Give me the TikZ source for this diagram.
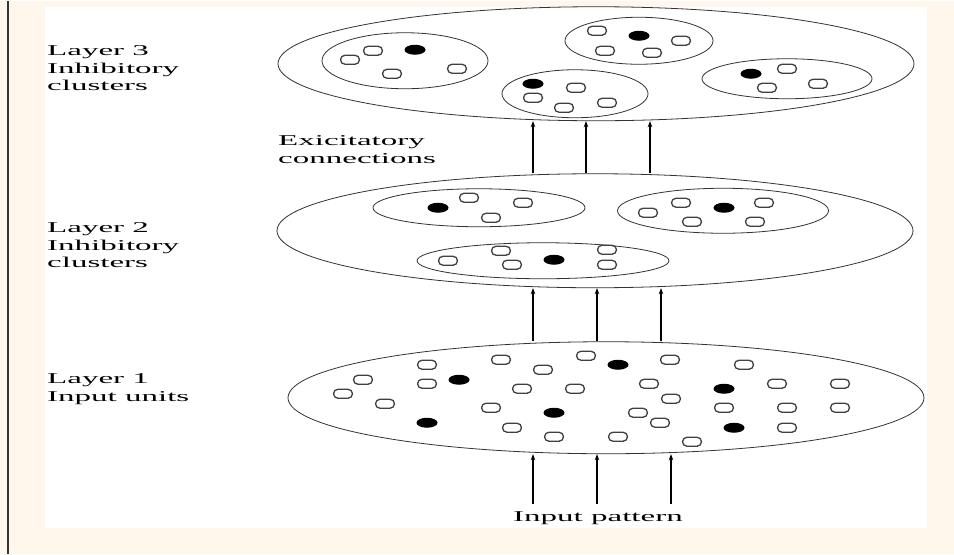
\documentclass[tikz,border=0pt]{standalone}
\usepackage{fontspec}
\setmainfont{Liberation Serif}
\newfontfamily\widefont[FakeStretch=2.2]{Liberation Serif}
\usetikzlibrary{shapes.geometric,arrows.meta}

\definecolor{pagecream}{RGB}{255,247,236}

\tikzset{
  layer/.style={ellipse, draw=black!80, line width=0.8pt, inner sep=0pt,
    minimum width=636pt, minimum height=114pt},
  cluster/.style={ellipse, draw=black!80, line width=0.8pt, inner sep=0pt},
  unit/.style={rectangle, rounded corners=4.5pt, draw=black!75, line width=1.3pt,
    inner sep=0pt, minimum width=19pt, minimum height=9pt},
  fired/.style={ellipse, fill=black, inner sep=0pt, minimum width=21pt, minimum height=10pt},
  sidetext/.style={font=\widefont\fontsize{15}{17.5}\selectfont, align=left,
    inner sep=0pt, anchor=north west},
  conn/.style={line width=1.2pt, -{Stealth[length=6pt,width=4.5pt]}}
}

\begin{document}
\begin{tikzpicture}[x=1pt,y=-1pt]

% Page frame
\fill[pagecream] (0,0) rectangle (954,553);
\fill[white] (45,6) rectangle (927,527);
\draw[black!80, line width=1.5pt] (8,0) -- (8,553);
\useasboundingbox (0,0) rectangle (954,553);

% Layer ellipses
\node[layer] (l3) at (596,63) {};
\node[layer] (l2) at (595,230) {};
\node[layer, minimum height=112pt] (l1) at (606,397) {};

% Layer 3 clusters
\node[cluster, minimum width=166pt, minimum height=56pt] (c3a) at (405,60) {};
\node[cluster, minimum width=148pt, minimum height=47pt] (c3b) at (639,40) {};
\node[cluster, minimum width=170pt, minimum height=40pt] (c3c) at (787,78) {};
\node[cluster, minimum width=146pt, minimum height=48pt] (c3d) at (575,93) {};

% Layer 2 clusters
\node[cluster, minimum width=212pt, minimum height=38pt] (c2a) at (479,207) {};
\node[cluster, minimum width=211pt, minimum height=45pt] (c2b) at (723,210) {};
\node[cluster, minimum width=252pt, minimum height=36pt] (c2c) at (543,260) {};

% Units in layer 3
\foreach \x/\y [count=\i] in {350/59, 373/50, 392/73, 457/68}
  \node[unit] (c3a-o\i) at (\x,\y) {};
\node[fired] (c3a-f) at (415,49) {};
\foreach \x/\y [count=\i] in {597/30, 681/40, 605/50, 652/52}
  \node[unit] (c3b-o\i) at (\x,\y) {};
\node[fired] (c3b-f) at (639,35) {};
\foreach \x/\y [count=\i] in {787/68, 767/87, 818/83}
  \node[unit] (c3c-o\i) at (\x,\y) {};
\node[fired] (c3c-f) at (751,73) {};
\foreach \x/\y [count=\i] in {576/87, 533/97, 564/107, 607/102}
  \node[unit] (c3d-o\i) at (\x,\y) {};
\node[fired] (c3d-f) at (533,83) {};

% Units in layer 2
\foreach \x/\y [count=\i] in {469/197, 523/202, 491/217}
  \node[unit] (c2a-o\i) at (\x,\y) {};
\node[fired] (c2a-f) at (438,207) {};
\foreach \x/\y [count=\i] in {648/212, 681/202, 764/202, 692/221, 755/221}
  \node[unit] (c2b-o\i) at (\x,\y) {};
\node[fired] (c2b-f) at (724,207) {};
\foreach \x/\y [count=\i] in {448/260, 501/250, 512/264, 607/249, 607/264}
  \node[unit] (c2c-o\i) at (\x,\y) {};
\node[fired] (c2c-f) at (554,259) {};

% Units in layer 1
\foreach \x/\y [count=\i] in {343/393, 363/379, 385/403, 427/364, 427/383, 501/359,
    543/369, 586/355, 522/388, 575/388, 491/407, 512/427, 554/436, 670/359,
    744/364, 649/383, 777/383, 840/383, 671/398, 638/412, 660/422, 724/407,
    787/407, 840/407, 787/427, 618/436, 692/441}
  \node[unit] (l1-o\i) at (\x,\y) {};
\foreach \x/\y [count=\i] in {459/379, 427/422, 554/412, 618/364, 724/388, 734/427}
  \node[fired] (l1-f\i) at (\x,\y) {};

% Labels
\node[sidetext] (t3) at (47,45) {Layer 3\\Inhibitory\\clusters};
\node[sidetext] (t2) at (47,222) {Layer 2\\Inhibitory\\clusters};
\node[sidetext] (t1) at (47,373) {Layer 1\\Input units};
\node[sidetext] (tx) at (278,135) {Exicitatory\\connections};
\node[font=\widefont\fontsize{15}{17.5}\selectfont, inner sep=0pt, anchor=base] (inp) at (598,521) {Input pattern};

% Arrow columns
\coordinate (a1) at (533,0);
\coordinate (a2) at (586,0);
\coordinate (a3) at (650,0);
\coordinate (b1) at (533,0);
\coordinate (b2) at (597,0);
\coordinate (b3) at (661,0);
\coordinate (p1) at (533,503);
\coordinate (p2) at (597,503);
\coordinate (p3) at (671,503);

% Excitatory connections
\foreach \c in {a1,a2,a3}
  \draw[conn] (l2.north -| \c) -- (l3.south -| \c);
\foreach \c in {b1,b2,b3}
  \draw[conn] (l1.north -| \c) -- (l2.south -| \c);

% Input pattern
\foreach \c in {p1,p2,p3}
  \draw[conn] (\c) -- (l1.south -| \c);

\end{tikzpicture}
\end{document}
